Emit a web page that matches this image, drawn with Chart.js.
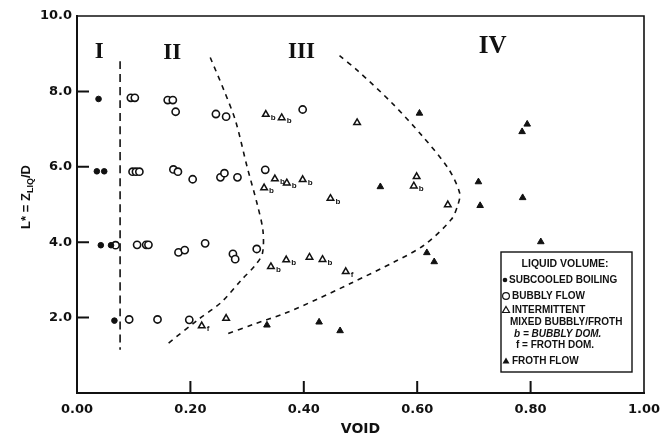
<!DOCTYPE html>
<html>
<head>
<meta charset="utf-8">
<script src="https://cdn.jsdelivr.net/npm/chart.js@4.4.0/dist/chart.umd.min.js"></script>
<style>
  body { margin: 0; background: #fff; }
  #wrap { width: 671px; height: 436px; }
</style>
</head>
<body>
<div id="wrap"><canvas id="chart"></canvas></div>
<script>
// Subcooled boiling (filled circles)
const subcooledVoid = [0.038, 0.035, 0.048, 0.042, 0.060, 0.066];
const subcooledL    = [7.80, 5.88, 5.88, 3.92, 3.92, 1.92];

// Bubbly flow (open circles)
const bubblyVoid = [0.095, 0.102, 0.160, 0.169, 0.174, 0.245, 0.263, 0.398,
                    0.098, 0.104, 0.110, 0.170, 0.178, 0.204, 0.253, 0.260, 0.283, 0.332,
                    0.068, 0.106, 0.122, 0.126, 0.179, 0.190, 0.226, 0.275, 0.279, 0.317,
                    0.092, 0.142, 0.198];
const bubblyL    = [7.83, 7.83, 7.77, 7.77, 7.46, 7.40, 7.33, 7.52,
                    5.87, 5.87, 5.87, 5.93, 5.87, 5.67, 5.72, 5.83, 5.72, 5.92,
                    3.92, 3.93, 3.93, 3.93, 3.73, 3.79, 3.97, 3.69, 3.55, 3.82,
                    1.95, 1.95, 1.94];

// Intermittent mixed bubbly/froth (open triangles), b = bubbly dom., f = froth dom.
const intermittentVoid = [0.220, 0.263, 0.333, 0.361, 0.494, 0.330, 0.349, 0.370, 0.398, 0.447,
                          0.599, 0.594, 0.654, 0.342, 0.369, 0.410, 0.433, 0.474];
const intermittentL    = [1.78, 1.98, 7.39, 7.30, 7.17, 5.44, 5.68, 5.57, 5.66, 5.16,
                          5.74, 5.49, 4.99, 3.35, 3.53, 3.60, 3.54, 3.22];
const intermittentTag  = ['f', '', 'b', 'b', '', 'b', 'b', 'b', 'b', 'b',
                          '', 'b', '', 'b', 'b', '', 'b', 'f'];

// Froth flow (filled triangles)
const frothVoid = [0.604, 0.535, 0.794, 0.785, 0.708, 0.711, 0.786, 0.818, 0.617, 0.630, 0.335, 0.427, 0.464];
const frothL    = [7.42, 5.47, 7.13, 6.93, 5.60, 4.97, 5.18, 4.01, 3.72, 3.48, 1.80, 1.88, 1.65];

// Regime boundaries (dashed)
const boundary1Void = [0.076, 0.076];
const boundary1L    = [8.80, 1.15];
const boundary2Void = [0.235, 0.260, 0.280, 0.300, 0.318, 0.328, 0.327, 0.315, 0.290, 0.254, 0.213, 0.157];
const boundary2L    = [8.90, 8.00, 7.20, 6.00, 5.00, 4.30, 3.70, 3.40, 3.00, 2.40, 1.94, 1.27];
const boundary3Void = [0.463, 0.495, 0.555, 0.610, 0.655, 0.675, 0.672, 0.660, 0.613, 0.560, 0.483, 0.424, 0.366, 0.313, 0.260];
const boundary3L    = [8.95, 8.55, 7.70, 6.80, 5.95, 5.30, 5.00, 4.60, 3.93, 3.48, 2.91, 2.49, 2.11, 1.83, 1.54];

// Region labels
const regionNames = ['I', 'II', 'III', 'IV'];
const regionVoid  = [0.039, 0.168, 0.396, 0.733];
const regionL     = [9.05, 9.03, 9.05, 9.20];

const xTicks = [0.2, 0.4, 0.6, 0.8];
const yTicks = [2, 4, 6, 8];

function pts(xs, ys) {
    return xs.map((x, i) => ({ x: x, y: ys[i] }));
}

function boundary(xs, ys, dash) {
    return {
        data: pts(xs, ys),
        showLine: true,
        borderColor: '#111',
        borderWidth: 1.6,
        borderDash: dash,
        pointRadius: 0,
        tension: 0.3,
        fill: false
    };
}

const ink = '#111';
const sans = 'Arial, "Liberation Sans", Helvetica, sans-serif';
const wide = '"DejaVu Sans", Verdana, sans-serif';

const overlay = {
    id: 'overlay',
    afterDatasetsDraw(chart) {
        const ctx = chart.ctx;
        // b / f subscripts next to intermittent points
        const meta = chart.getDatasetMeta(5);
        ctx.save();
        ctx.fillStyle = ink;
        ctx.font = 'bold 8px ' + sans;
        ctx.textBaseline = 'middle';
        meta.data.forEach((el, i) => {
            if (intermittentTag[i]) ctx.fillText(intermittentTag[i], el.x + 5, el.y + 3);
        });
        ctx.restore();
    },
    afterDraw(chart) {
        const ctx = chart.ctx;
        const a = chart.chartArea;
        const xs = chart.scales.x, ys = chart.scales.y;
        ctx.save();
        ctx.strokeStyle = ink;

        // top and right frame
        ctx.lineWidth = 1.6;
        ctx.beginPath();
        ctx.moveTo(a.left, a.top);
        ctx.lineTo(a.right, a.top);
        ctx.lineTo(a.right, a.bottom);
        ctx.stroke();

        // inner tick marks
        ctx.lineWidth = 2;
        ctx.beginPath();
        xTicks.forEach(v => {
            const px = xs.getPixelForValue(v);
            ctx.moveTo(px, a.bottom);
            ctx.lineTo(px, a.bottom - 12);
        });
        yTicks.forEach(v => {
            const py = ys.getPixelForValue(v);
            ctx.moveTo(a.left, py);
            ctx.lineTo(a.left + 12, py);
        });
        ctx.stroke();

        // region labels
        ctx.fillStyle = ink;
        ctx.textAlign = 'center';
        ctx.textBaseline = 'middle';
        regionNames.forEach((t, i) => {
            ctx.font = 'bold ' + (t === 'IV' ? 25 : 23) + 'px "Liberation Serif", "Times New Roman", serif';
            ctx.fillText(t, xs.getPixelForValue(regionVoid[i]), ys.getPixelForValue(regionL[i]));
        });

        // x title
        ctx.font = 'bold 14px ' + wide;
        ctx.fillText('VOID', (a.left + a.right) / 2, 429);

        // y title with subscript
        ctx.save();
        ctx.translate(25, 197);
        ctx.rotate(-Math.PI / 2);
        ctx.textAlign = 'left';
        ctx.textBaseline = 'alphabetic';
        const big = 'bold 13px ' + sans, small = 'bold 9px ' + sans;
        const p1 = 'L* = Z', p2 = 'LIQ', p3 = '/D';
        ctx.font = big; const w1 = ctx.measureText(p1).width, w3 = ctx.measureText(p3).width;
        ctx.font = small; const w2 = ctx.measureText(p2).width;
        let x0 = -(w1 + w2 + w3) / 2;
        ctx.font = big; ctx.fillText(p1, x0, 5);
        ctx.font = small; ctx.fillText(p2, x0 + w1, 8);
        ctx.font = big; ctx.fillText(p3, x0 + w1 + w2, 5);
        ctx.restore();

        // legend box
        const L = 501, T = 252, R = 632, B = 372;
        ctx.fillStyle = '#fff';
        ctx.fillRect(L, T, R - L, B - T);
        ctx.lineWidth = 1.4;
        ctx.strokeRect(L, T, R - L, B - T);
        ctx.fillStyle = ink;
        ctx.textAlign = 'center';
        ctx.font = 'bold 10.5px ' + sans;
        ctx.fillText('LIQUID VOLUME:', 565, 264);
        ctx.textAlign = 'left';
        ctx.font = 'bold 10px ' + sans;
        ctx.fillText('SUBCOOLED BOILING', 509, 280);
        ctx.fillText('BUBBLY FLOW', 512, 296);
        ctx.fillText('INTERMITTENT', 512, 310);
        ctx.fillText('MIXED BUBBLY/FROTH', 510, 322.5);
        ctx.fillText('f = FROTH DOM.', 516, 345.5);
        ctx.fillText('FROTH FLOW', 512, 361);
        ctx.font = 'italic bold 10px ' + sans;
        ctx.fillText('b = BUBBLY DOM.', 514, 334);

        // legend markers
        ctx.lineWidth = 1.2;
        ctx.beginPath(); ctx.arc(505, 280, 2.3, 0, Math.PI * 2); ctx.fill();
        ctx.beginPath(); ctx.arc(506, 296, 3.4, 0, Math.PI * 2); ctx.stroke();
        ctx.beginPath(); ctx.moveTo(506, 306.5); ctx.lineTo(509.5, 312.5); ctx.lineTo(502.5, 312.5); ctx.closePath(); ctx.stroke();
        ctx.beginPath(); ctx.moveTo(506, 357.5); ctx.lineTo(509.5, 363.5); ctx.lineTo(502.5, 363.5); ctx.closePath(); ctx.fill();

        ctx.restore();
    }
};

new Chart(document.getElementById('chart'), {
    type: 'scatter',
    data: {
        datasets: [
            boundary(boundary1Void, boundary1L, [8, 5]),
            boundary(boundary2Void, boundary2L, [5, 5]),
            boundary(boundary3Void, boundary3L, [5, 5]),
            {
                data: pts(subcooledVoid, subcooledL),
                pointStyle: 'circle', pointRadius: 2.8,
                backgroundColor: ink, borderColor: ink, borderWidth: 1
            },
            {
                data: pts(bubblyVoid, bubblyL),
                pointStyle: 'circle', pointRadius: 3.6,
                backgroundColor: '#fff', borderColor: ink, borderWidth: 1.6
            },
            {
                data: pts(intermittentVoid, intermittentL),
                pointStyle: 'triangle', pointRadius: 3.8,
                backgroundColor: '#fff', borderColor: ink, borderWidth: 1.5
            },
            {
                data: pts(frothVoid, frothL),
                pointStyle: 'triangle', pointRadius: 3.8,
                backgroundColor: ink, borderColor: ink, borderWidth: 1
            }
        ]
    },
    options: {
        responsive: true,
        maintainAspectRatio: false,
        animation: false,
        layout: { padding: { top: 16, right: 27, left: 0, bottom: 0 } },
        plugins: {
            legend: { display: false },
            tooltip: { enabled: false }
        },
        scales: {
            x: {
                type: 'linear',
                min: 0, max: 1,
                afterFit: s => { s.height = 43; },
                grid: { display: false, drawTicks: false },
                border: { display: true, color: ink, width: 2 },
                ticks: {
                    stepSize: 0.2,
                    padding: 9,
                    color: ink,
                    font: { family: wide, size: 13, weight: 'bold' },
                    callback: v => v.toFixed(2)
                }
            },
            y: {
                type: 'linear',
                min: 0, max: 10,
                afterFit: s => { s.width = 77; },
                grid: { display: false, drawTicks: false },
                border: { display: true, color: ink, width: 2 },
                ticks: {
                    stepSize: 2,
                    padding: 5,
                    color: ink,
                    font: { family: wide, size: 13, weight: 'bold' },
                    callback: v => v === 0 ? '' : v.toFixed(1)
                }
            }
        }
    },
    plugins: [overlay]
});
</script>
</body>
</html>
